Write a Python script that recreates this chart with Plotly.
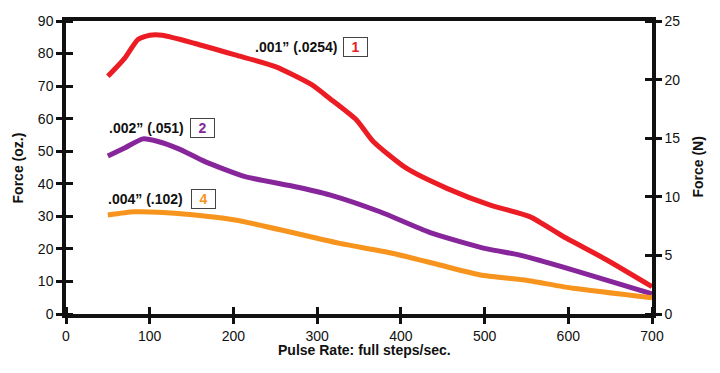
import plotly.graph_objects as go

# Pulse rate (full steps/sec) and force (oz.)
red_x = [50, 70, 86, 100, 115, 154, 202, 250, 293, 315, 347, 367, 407, 455, 506, 554, 594, 646, 700]
red_y = [73, 78.5, 84.3, 85.6, 85.6, 83.1, 79.6, 76, 70.5, 66.2, 59.6, 53, 44.7, 38.6, 33.5, 29.9, 23.8, 16.6, 8.4]

purple_x = [50, 70, 92, 110, 134, 166, 214, 274, 315, 375, 435, 503, 542, 606, 700]
purple_y = [48.5, 51, 53.8, 53, 50.8, 46.8, 42.2, 39.1, 36.6, 31.4, 25, 20, 18.1, 13.5, 6.2]

orange_x = [50, 82, 134, 202, 274, 327, 387, 440, 495, 546, 606, 700]
orange_y = [30.4, 31.4, 30.9, 28.9, 24.8, 21.7, 18.8, 15.5, 12, 10.5, 7.9, 5]

x_ticks = [0, 100, 200, 300, 400, 500, 600, 700]
y_ticks_oz = [0, 10, 20, 30, 40, 50, 60, 70, 80, 90]
y_ticks_n = [0, 5, 10, 15, 20, 25]

labels = ['.001\u201d (.0254)', '.002\u201d (.051)', '.004\u201d (.102)']
label_x = [275, 96, 95]
label_y = [82, 57, 35.2]
box_text = ['1', '2', '4']
box_x = [346, 163, 164]

RED = '#ec1c24'
PURPLE = '#87259a'
ORANGE = '#f7941d'
colors = [RED, PURPLE, ORANGE]
FONT = 'Liberation Sans, Arial, Helvetica, sans-serif'

fig = go.Figure()
for xs, ys, c in [(red_x, red_y, RED), (purple_x, purple_y, PURPLE), (orange_x, orange_y, ORANGE)]:
    fig.add_trace(go.Scatter(x=xs, y=ys, mode='lines',
                             line=dict(color=c, width=5, shape='spline', smoothing=0.6),
                             hoverinfo='skip', showlegend=False))

# invisible trace so the right (newton) axis gets drawn
fig.add_trace(go.Scatter(x=[None], y=[None], xaxis='x', yaxis='y2', mode='lines',
                         hoverinfo='skip', showlegend=False))

annotations = []
for t, lx, ly, bt, bx, c in zip(labels, label_x, label_y, box_text, box_x, colors):
    annotations.append(dict(x=lx, y=ly, xref='x', yref='y', text='<b>' + t + '</b>',
                            showarrow=False, font=dict(family=FONT, size=14, color='#111')))
    annotations.append(dict(x=bx, y=ly, xref='x', yref='y', text='<b>' + bt + '</b>',
                            showarrow=False, font=dict(family=FONT, size=14, color=c),
                            bordercolor='#444', borderwidth=1, width=21, height=16, borderpad=1,
                            bgcolor='white'))

title_font = dict(family=FONT, size=14, color='#111')
annotations.append(dict(x=0.509, y=-0.123, xref='paper', yref='paper', xanchor='center', yanchor='middle',
                        text='<b>Pulse Rate: full steps/sec.</b>', showarrow=False, font=title_font))
annotations.append(dict(x=-0.082, y=0.5, xref='paper', yref='paper', xanchor='center', yanchor='middle',
                        text='<b>Force (oz.)</b>', textangle=-90, showarrow=False, font=title_font))
annotations.append(dict(x=1.077, y=0.5, xref='paper', yref='paper', xanchor='center', yanchor='middle',
                        text='<b>Force (N)</b>', textangle=-90, showarrow=False, font=title_font))

axis_common = dict(showgrid=False, zeroline=False, linecolor='#111', linewidth=3.5,
                   tickcolor='#111', tickwidth=2.5, ticklen=6, automargin=False,
                   tickfont=dict(family=FONT, size=14, color='#111'))


def inner(vals):
    # tick marks crossing to the inside of the axis (minor ticks at the major positions)
    return dict(ticks='inside', tickmode='array', tickvals=[v + 1e-6 for v in vals],
                ticklen=7, tickwidth=2.5, tickcolor='#111', showgrid=False)


fig.update_layout(
    width=720, height=373, autosize=False,
    margin=dict(l=58, r=76, t=13, b=67),
    paper_bgcolor='white', plot_bgcolor='white',
    font=dict(family=FONT, color='#111'),
    xaxis=dict(range=[0, 700], tickvals=x_ticks, ticks='outside', showline=True, mirror=True,
               minor=inner(x_ticks), **axis_common),
    yaxis=dict(range=[0, 90], tickvals=y_ticks_oz, ticks='outside', showline=True,
               minor=inner(y_ticks_oz), **axis_common),
    yaxis2=dict(range=[0, 25], tickvals=y_ticks_n, ticks='outside', showline=True,
                overlaying='y', side='right', anchor='x',
                minor=inner(y_ticks_n), **axis_common),
    annotations=annotations,
)

fig.write_html('out.html')
